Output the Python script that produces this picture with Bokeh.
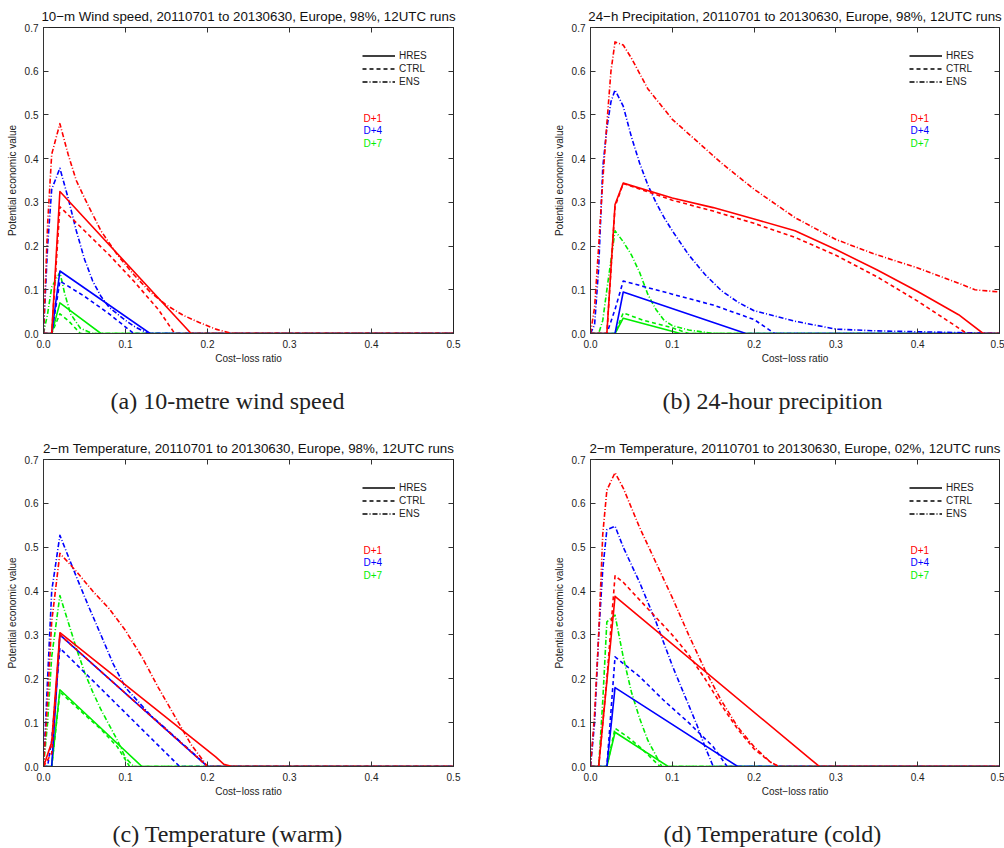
from bokeh.plotting import figure
from bokeh.models import (LinearAxis, FixedTicker, PrintfTickFormatter, Label,
                          Legend, LegendItem, Range1d)
from bokeh.layouts import column, row
from bokeh.embed import file_html
from bokeh.resources import INLINE

# ---------------- labels / ticks ----------------
X_TICKS = [0.0, 0.1, 0.2, 0.3, 0.4, 0.5]
Y_TICKS = [0.0, 0.1, 0.2, 0.3, 0.4, 0.5, 0.6, 0.7]
X_LABEL = "Cost\u2212loss ratio"
Y_LABEL = "Potential economic value"
SYSTEMS = ["HRES", "CTRL", "ENS"]
LEADS = ["D+1", "D+4", "D+7"]
TITLES = [
    "10\u2212m Wind speed, 20110701 to 20130630, Europe, 98%, 12UTC runs",
    "24\u2212h Precipitation, 20110701 to 20130630, Europe, 98%, 12UTC runs",
    "2\u2212m Temperature, 20110701 to 20130630, Europe, 98%, 12UTC runs",
    "2\u2212m Temperature, 20110701 to 20130630, Europe, 02%, 12UTC runs",
]
CAPTIONS = [
    "(a)  10-metre wind speed",
    "(b)  24-hour precipition",
    "(c)  Temperature (warm)",
    "(d)  Temperature (cold)",
]

# ---------------- (a) 10-m wind speed ----------------
wind_hres_d1_x = [0, 0.01, 0.02, 0.18, 0.5]
wind_hres_d1_y = [0, 0.0, 0.325, 0.0, 0]
wind_ctrl_d1_x = [0, 0.01, 0.02, 0.05, 0.08, 0.11, 0.14, 0.16, 0.5]
wind_ctrl_d1_y = [0, 0.0, 0.29, 0.235, 0.18, 0.12, 0.055, 0.0, 0]
wind_ens_d1_x = [0, 0.005, 0.01, 0.02, 0.03, 0.04, 0.05, 0.07, 0.09, 0.11, 0.13, 0.15, 0.17, 0.19, 0.21, 0.23, 0.5]
wind_ens_d1_y = [0, 0.25, 0.41, 0.48, 0.41, 0.35, 0.31, 0.235, 0.18, 0.135, 0.095, 0.065, 0.042, 0.025, 0.01, 0.0, 0]

wind_hres_d4_x = [0, 0.01, 0.02, 0.13, 0.5]
wind_hres_d4_y = [0, 0.0, 0.143, 0.0, 0]
wind_ctrl_d4_x = [0, 0.01, 0.02, 0.05, 0.08, 0.11, 0.5]
wind_ctrl_d4_y = [0, 0.0, 0.12, 0.085, 0.045, 0.0, 0]
wind_ens_d4_x = [0, 0.005, 0.01, 0.02, 0.03, 0.04, 0.05, 0.06, 0.07, 0.08, 0.09, 0.1, 0.11, 0.12, 0.13, 0.5]
wind_ens_d4_y = [0, 0.2, 0.33, 0.378, 0.31, 0.235, 0.17, 0.12, 0.085, 0.06, 0.045, 0.03, 0.017, 0.007, 0.0, 0]

wind_hres_d7_x = [0, 0.01, 0.02, 0.07, 0.5]
wind_hres_d7_y = [0, 0.0, 0.07, 0.0, 0]
wind_ctrl_d7_x = [0, 0.01, 0.02, 0.03, 0.045, 0.5]
wind_ctrl_d7_y = [0, 0.0, 0.045, 0.03, 0.0, 0]
wind_ens_d7_x = [0, 0.005, 0.01, 0.02, 0.026, 0.033, 0.045, 0.06, 0.5]
wind_ens_d7_y = [0, 0.045, 0.106, 0.14, 0.09, 0.045, 0.012, 0.0, 0]

# ---------------- (b) 24-h precipitation ----------------
precip_hres_d1_x = [0, 0.02, 0.03, 0.04, 0.1, 0.15, 0.2, 0.25, 0.3, 0.35, 0.4, 0.45, 0.48, 0.5]
precip_hres_d1_y = [0, 0.0, 0.295, 0.344, 0.31, 0.288, 0.262, 0.235, 0.192, 0.146, 0.096, 0.043, 0.0, 0]
precip_ctrl_d1_x = [0, 0.02, 0.03, 0.04, 0.1, 0.15, 0.2, 0.25, 0.3, 0.35, 0.4, 0.44, 0.46, 0.5]
precip_ctrl_d1_y = [0, 0.0, 0.29, 0.343, 0.305, 0.28, 0.252, 0.22, 0.179, 0.13, 0.074, 0.025, 0.0, 0]
precip_ens_d1_x = [0, 0.005, 0.01, 0.015, 0.02, 0.025, 0.03, 0.04, 0.05, 0.07, 0.1, 0.13, 0.16, 0.2, 0.25, 0.3, 0.35, 0.4, 0.45, 0.47, 0.5]
precip_ens_d1_y = [0, 0.06, 0.2, 0.35, 0.48, 0.6, 0.667, 0.66, 0.63, 0.56, 0.49, 0.44, 0.39, 0.33, 0.265, 0.215, 0.18, 0.15, 0.115, 0.1, 0.095]

precip_hres_d4_x = [0, 0.03, 0.04, 0.19, 0.5]
precip_hres_d4_y = [0, 0.0, 0.095, 0.0, 0]
precip_ctrl_d4_x = [0, 0.02, 0.03, 0.04, 0.07, 0.1, 0.15, 0.2, 0.225, 0.5]
precip_ctrl_d4_y = [0, 0.0, 0.055, 0.12, 0.105, 0.09, 0.065, 0.032, 0.0, 0]
precip_ens_d4_x = [0, 0.005, 0.01, 0.015, 0.02, 0.025, 0.03, 0.04, 0.05, 0.06, 0.07, 0.08, 0.09, 0.1, 0.12, 0.14, 0.16, 0.18, 0.2, 0.25, 0.3, 0.35, 0.4, 0.45, 0.5]
precip_ens_d4_y = [0, 0.02, 0.15, 0.38, 0.47, 0.53, 0.557, 0.52, 0.45, 0.39, 0.34, 0.3, 0.265, 0.235, 0.18, 0.135, 0.098, 0.072, 0.052, 0.028, 0.01, 0.006, 0.004, 0.002, 0.0]

precip_hres_d7_x = [0, 0.03, 0.04, 0.11, 0.5]
precip_hres_d7_y = [0, 0.0, 0.035, 0.0, 0]
precip_ctrl_d7_x = [0, 0.03, 0.04, 0.065, 0.1, 0.12, 0.5]
precip_ctrl_d7_y = [0, 0.0, 0.047, 0.03, 0.013, 0.0, 0]
precip_ens_d7_x = [0, 0.01, 0.015, 0.02, 0.03, 0.04, 0.05, 0.06, 0.07, 0.08, 0.09, 0.1, 0.12, 0.15, 0.5]
precip_ens_d7_y = [0, 0.0, 0.03, 0.1, 0.235, 0.21, 0.18, 0.14, 0.09, 0.055, 0.03, 0.018, 0.008, 0.0, 0]

# ---------------- (c) 2-m temperature, warm ----------------
warm_hres_d1_x = [0, 0.01, 0.02, 0.21, 0.22, 0.23, 0.5]
warm_hres_d1_y = [0, 0.055, 0.305, 0.022, 0.005, 0.0, 0]
warm_ctrl_d1_x = [0, 0.01, 0.02, 0.2, 0.5]
warm_ctrl_d1_y = [0, 0.03, 0.3, 0.0, 0]
warm_ens_d1_x = [0, 0.005, 0.01, 0.02, 0.04, 0.06, 0.08, 0.1, 0.12, 0.14, 0.16, 0.18, 0.2, 0.5]
warm_ens_d1_y = [0, 0.15, 0.33, 0.486, 0.445, 0.4, 0.36, 0.31, 0.25, 0.18, 0.115, 0.05, 0.0, 0]

warm_hres_d4_x = [0, 0.01, 0.02, 0.2, 0.5]
warm_hres_d4_y = [0, 0.0, 0.3, 0.0, 0]
warm_ctrl_d4_x = [0, 0.005, 0.01, 0.02, 0.166, 0.5]
warm_ctrl_d4_y = [0, 0.0, 0.06, 0.27, 0.0, 0]
warm_ens_d4_x = [0, 0.005, 0.01, 0.02, 0.04, 0.055, 0.07, 0.085, 0.1, 0.13, 0.16, 0.19, 0.2, 0.5]
warm_ens_d4_y = [0, 0.2, 0.4, 0.527, 0.433, 0.365, 0.3, 0.234, 0.18, 0.118, 0.068, 0.018, 0.0, 0]

warm_hres_d7_x = [0, 0.01, 0.02, 0.12, 0.5]
warm_hres_d7_y = [0, 0.0, 0.175, 0.0, 0]
warm_ctrl_d7_x = [0, 0.01, 0.02, 0.045, 0.07, 0.09, 0.105, 0.5]
warm_ctrl_d7_y = [0, 0.0, 0.17, 0.127, 0.085, 0.045, 0.0, 0]
warm_ens_d7_x = [0, 0.005, 0.01, 0.02, 0.03, 0.04, 0.05, 0.06, 0.07, 0.08, 0.09, 0.1, 0.11, 0.5]
warm_ens_d7_y = [0, 0.1, 0.25, 0.39, 0.33, 0.27, 0.215, 0.17, 0.13, 0.095, 0.06, 0.02, 0.0, 0]

# ---------------- (d) 2-m temperature, cold ----------------
cold_hres_d1_x = [0, 0.01, 0.03, 0.27, 0.28, 0.5]
cold_hres_d1_y = [0, 0.0, 0.388, 0.015, 0.0, 0]
cold_ctrl_d1_x = [0, 0.01, 0.02, 0.03, 0.04, 0.06, 0.08, 0.1, 0.12, 0.14, 0.16, 0.18, 0.2, 0.22, 0.23, 0.5]
cold_ctrl_d1_y = [0, 0.0, 0.2, 0.435, 0.42, 0.38, 0.34, 0.3, 0.255, 0.2, 0.14, 0.085, 0.04, 0.01, 0.0, 0]
cold_ens_d1_x = [0, 0.005, 0.01, 0.015, 0.02, 0.03, 0.04, 0.05, 0.06, 0.07, 0.08, 0.09, 0.1, 0.12, 0.14, 0.16, 0.18, 0.2, 0.22, 0.23, 0.5]
cold_ens_d1_y = [0, 0.12, 0.3, 0.53, 0.63, 0.67, 0.635, 0.59, 0.545, 0.505, 0.465, 0.425, 0.385, 0.3, 0.22, 0.15, 0.09, 0.045, 0.01, 0.0, 0]

cold_hres_d4_x = [0, 0.02, 0.03, 0.18, 0.5]
cold_hres_d4_y = [0, 0.0, 0.18, 0.0, 0]
cold_ctrl_d4_x = [0, 0.02, 0.03, 0.06, 0.09, 0.12, 0.15, 0.167, 0.5]
cold_ctrl_d4_y = [0, 0.0, 0.25, 0.205, 0.15, 0.1, 0.045, 0.0, 0]
cold_ens_d4_x = [0, 0.005, 0.01, 0.015, 0.02, 0.03, 0.04, 0.05, 0.06, 0.07, 0.08, 0.09, 0.1, 0.11, 0.12, 0.13, 0.14, 0.15, 0.5]
cold_ens_d4_y = [0, 0.1, 0.3, 0.45, 0.54, 0.548, 0.5, 0.46, 0.42, 0.375, 0.33, 0.28, 0.23, 0.185, 0.14, 0.095, 0.045, 0.0, 0]

cold_hres_d7_x = [0, 0.02, 0.03, 0.095, 0.5]
cold_hres_d7_y = [0, 0.0, 0.078, 0.0, 0]
cold_ctrl_d7_x = [0, 0.02, 0.03, 0.045, 0.06, 0.075, 0.085, 0.5]
cold_ctrl_d7_y = [0, 0.0, 0.087, 0.068, 0.045, 0.018, 0.0, 0]
cold_ens_d7_x = [0, 0.01, 0.015, 0.02, 0.03, 0.04, 0.05, 0.06, 0.07, 0.08, 0.087, 0.5]
cold_ens_d7_y = [0, 0.0, 0.15, 0.33, 0.345, 0.25, 0.17, 0.11, 0.06, 0.025, 0.0, 0]

PANELS = [
    {"D+1": {"HRES": (wind_hres_d1_x, wind_hres_d1_y), "CTRL": (wind_ctrl_d1_x, wind_ctrl_d1_y), "ENS": (wind_ens_d1_x, wind_ens_d1_y)},
     "D+4": {"HRES": (wind_hres_d4_x, wind_hres_d4_y), "CTRL": (wind_ctrl_d4_x, wind_ctrl_d4_y), "ENS": (wind_ens_d4_x, wind_ens_d4_y)},
     "D+7": {"HRES": (wind_hres_d7_x, wind_hres_d7_y), "CTRL": (wind_ctrl_d7_x, wind_ctrl_d7_y), "ENS": (wind_ens_d7_x, wind_ens_d7_y)}},
    {"D+1": {"HRES": (precip_hres_d1_x, precip_hres_d1_y), "CTRL": (precip_ctrl_d1_x, precip_ctrl_d1_y), "ENS": (precip_ens_d1_x, precip_ens_d1_y)},
     "D+4": {"HRES": (precip_hres_d4_x, precip_hres_d4_y), "CTRL": (precip_ctrl_d4_x, precip_ctrl_d4_y), "ENS": (precip_ens_d4_x, precip_ens_d4_y)},
     "D+7": {"HRES": (precip_hres_d7_x, precip_hres_d7_y), "CTRL": (precip_ctrl_d7_x, precip_ctrl_d7_y), "ENS": (precip_ens_d7_x, precip_ens_d7_y)}},
    {"D+1": {"HRES": (warm_hres_d1_x, warm_hres_d1_y), "CTRL": (warm_ctrl_d1_x, warm_ctrl_d1_y), "ENS": (warm_ens_d1_x, warm_ens_d1_y)},
     "D+4": {"HRES": (warm_hres_d4_x, warm_hres_d4_y), "CTRL": (warm_ctrl_d4_x, warm_ctrl_d4_y), "ENS": (warm_ens_d4_x, warm_ens_d4_y)},
     "D+7": {"HRES": (warm_hres_d7_x, warm_hres_d7_y), "CTRL": (warm_ctrl_d7_x, warm_ctrl_d7_y), "ENS": (warm_ens_d7_x, warm_ens_d7_y)}},
    {"D+1": {"HRES": (cold_hres_d1_x, cold_hres_d1_y), "CTRL": (cold_ctrl_d1_x, cold_ctrl_d1_y), "ENS": (cold_ens_d1_x, cold_ens_d1_y)},
     "D+4": {"HRES": (cold_hres_d4_x, cold_hres_d4_y), "CTRL": (cold_ctrl_d4_x, cold_ctrl_d4_y), "ENS": (cold_ens_d4_x, cold_ens_d4_y)},
     "D+7": {"HRES": (cold_hres_d7_x, cold_hres_d7_y), "CTRL": (cold_ctrl_d7_x, cold_ctrl_d7_y), "ENS": (cold_ens_d7_x, cold_ens_d7_y)}},
]

# ---------------- styles ----------------
COLORS = {"D+1": "#ff0000", "D+4": "#0000ff", "D+7": "#00ee00"}
DASHES = {"HRES": "solid", "CTRL": "4 3", "ENS": "5 2 1 2"}
FONT = "Liberation Sans"
SERIF = "Liberation Serif"
NAN = float("nan")
CAPTION_LEFT = [110, 160, 112, 161]


def make_panel(idx, w, h, bl, br, bt, bb):
    fh = h - bt - bb
    p = figure(width=w, height=h, x_range=Range1d(0, 0.5), y_range=Range1d(0, 0.7),
               output_backend="svg", toolbar_location=None, title=TITLES[idx],
               min_border_left=bl, min_border_right=br, min_border_top=bt, min_border_bottom=bb)
    p.title.align = "center"
    p.title.text_font = FONT
    p.title.text_font_size = "13.3px"
    p.title.text_font_style = "normal"
    p.title.text_color = "#111111"
    p.title.standoff = 7
    p.grid.visible = False
    p.outline_line_color = "#222222"
    p.outline_line_width = 1
    p.background_fill_color = "white"
    p.border_fill_color = "white"

    for ax, ticks in ((p.xaxis[0], X_TICKS), (p.yaxis[0], Y_TICKS)):
        ax.ticker = FixedTicker(ticks=ticks)
        ax.formatter = PrintfTickFormatter(format="%.1f")
        ax.major_tick_in = 5
        ax.major_tick_out = 0
        ax.minor_tick_line_color = None
        ax.axis_line_color = "#333333"
        ax.major_tick_line_color = "#333333"
        ax.major_label_text_font = FONT
        ax.major_label_text_font_size = "10px"
        ax.major_label_text_color = "#222222"
        ax.axis_label_text_font = FONT
        ax.axis_label_text_font_size = "10px"
        ax.axis_label_text_font_style = "normal"
        ax.axis_label_text_color = "#222222"
    p.xaxis[0].axis_label = X_LABEL
    p.yaxis[0].axis_label = Y_LABEL
    p.xaxis[0].major_label_standoff = 6
    p.xaxis[0].axis_label_standoff = 2
    p.yaxis[0].major_label_standoff = 5
    p.yaxis[0].axis_label_standoff = 4

    for loc, ticks in (("above", X_TICKS), ("right", Y_TICKS)):
        ax = LinearAxis(ticker=FixedTicker(ticks=ticks), major_tick_in=5, major_tick_out=0,
                        minor_tick_line_color=None, major_label_text_font_size="1px",
                        major_label_text_color=None,
                        major_label_standoff=0, axis_line_color="#222222",
                        major_tick_line_color="#333333")
        p.add_layout(ax, loc)

    data = PANELS[idx]
    for lead in ["D+7", "D+4", "D+1"]:
        for sysn in SYSTEMS:
            xs, ys = data[lead][sysn]
            p.line(xs, ys, line_color=COLORS[lead], line_width=1.6,
                   line_dash=DASHES[sysn], line_join="round")

    # line-style legend (black samples); the sample renderers hold no visible data
    items = []
    for sysn in SYSTEMS:
        r = p.line([NAN], [NAN], line_color="black", line_width=1.3, line_dash=DASHES[sysn])
        items.append(LegendItem(label=sysn, renderers=[r]))
    legend = Legend(items=items, location=(319, fh - 21.5 - 39),
                    glyph_width=33, glyph_height=13, label_height=13,
                    label_standoff=4, spacing=0, padding=0, margin=0,
                    border_line_color=None, background_fill_alpha=0,
                    label_text_font=FONT, label_text_font_size="10px",
                    label_text_color="#222222")
    p.add_layout(legend, "center")

    for k, lead in enumerate(LEADS):
        p.add_layout(Label(x=320, y=fh - 91 - 12.3 * k, x_units="screen", y_units="screen",
                           text=lead, text_color=COLORS[lead], text_font=FONT,
                           text_font_size="10px", text_baseline="middle"))
    return p


def make_caption(idx, w, h, center_from_top):
    c = figure(width=w, height=h, x_range=Range1d(0, 1), y_range=Range1d(0, 1),
               output_backend="svg", toolbar_location=None,
               x_axis_type=None, y_axis_type=None,
               min_border_left=0, min_border_right=0, min_border_top=0, min_border_bottom=0)
    c.grid.visible = False
    c.outline_line_color = None
    c.background_fill_color = "white"
    c.border_fill_color = "white"
    c.add_layout(Label(x=CAPTION_LEFT[idx], y=h - center_from_top, x_units="screen", y_units="screen",
                       text=CAPTIONS[idx], text_align="left", text_baseline="middle",
                       text_font=SERIF, text_font_size="24px", text_color="#222222"))
    return c


pa = make_panel(0, 502, 366, 43, 49, 27, 33)
pb = make_panel(1, 502, 366, 88, 5, 27, 33)
ca = make_caption(0, 502, 58, 34)
cb = make_caption(1, 502, 58, 34)
pc = make_panel(2, 502, 375, 43, 49, 35, 33)
pd = make_panel(3, 502, 375, 88, 5, 35, 33)
cc = make_caption(2, 502, 49, 34)
cd = make_caption(3, 502, 49, 34)

layout = column(row(pa, pb, spacing=0), row(ca, cb, spacing=0),
                row(pc, pd, spacing=0), row(cc, cd, spacing=0), spacing=0)

with open("out.html", "w") as f:
    f.write(file_html(layout, INLINE))
